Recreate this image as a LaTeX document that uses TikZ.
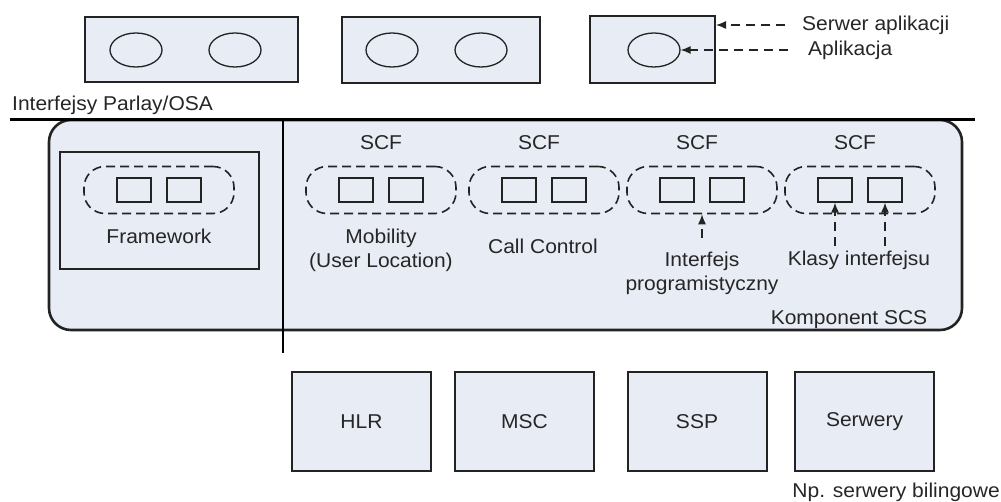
\documentclass[tikz,border=0pt]{standalone}
\usepackage{fontspec}
\setmainfont{Liberation Sans}[FakeStretch=1.05]
\usetikzlibrary{arrows.meta,positioning,shapes.geometric}
\definecolor{boxfill}{RGB}{232,236,244}
\definecolor{linegray}{RGB}{35,35,35}
\tikzset{
  srvbox/.style={draw=linegray, line width=2pt, fill=boxfill, inner sep=0pt},
  appell/.style={draw=linegray, ellipse, line width=1.3pt, minimum width=52pt, minimum height=34pt, inner sep=0pt},
  grpbox/.style={draw=linegray, dash pattern=on 9pt off 5pt, line width=1.6pt, rounded corners=21pt, minimum width=150pt, minimum height=47pt, inner sep=0pt},
  ifbox/.style={draw=linegray, line width=1.2pt, minimum width=34pt, minimum height=24pt, inner sep=0pt},
  dasharrow/.style={draw=linegray, dash pattern=on 9pt off 6pt, line width=1.3pt, -{Latex[length=10pt,width=8pt]}},
  lbl/.style={inner sep=2pt, text=black!85}
}
\begin{document}
\begin{tikzpicture}[x=1pt, y=-1pt, font=\fontsize{20}{24}\selectfont]
\useasboundingbox (0,0) rectangle (1001,502);
% serwery aplikacji
\node[srvbox, minimum width=213pt, minimum height=65pt] (srv1) at (191.5,49.5) {};
\node[srvbox, minimum width=198pt, minimum height=66pt] (srv2) at (441,50) {};
\node[srvbox, minimum width=125pt, minimum height=67pt] (srv3) at (652.5,49.5) {};
\foreach \name/\x in {app1/136, app2/235, app4/392, app5/481, app3/654}
  \node[appell] (\name) at (\x,50) {};
\node[lbl, anchor=west] (lblsrv) at (800,25) {Serwer aplikacji};
\node[lbl, anchor=west] (lblapp) at (806,50) {Aplikacja};
\draw[dasharrow] ([xshift=-15pt]lblsrv.west) -- (srv3.east |- lblsrv.west);
\draw[dasharrow] ([xshift=-18pt]lblapp.west) -- (app3.east);
% komponent SCS
\node[lbl, anchor=west] (lblosa) at (10,105) {Interfejsy Parlay/OSA};
\node[srvbox, line width=2.6pt, rounded corners=22pt, minimum width=913pt, minimum height=210pt] (scs) at (505.5,225) {};
\draw[line width=3pt] (10,120) -- (975,120);
\draw[line width=2.6pt] (283,120) -- (283,353);
\node[lbl] at (849,320) {Komponent SCS};
\node[srvbox, minimum width=199pt, minimum height=117pt] (fwbox) at (159.5,210.5) {};
\foreach \name/\x in {fw/159, mob/381, cc/544, pi/702, ki/860} {
  \node[grpbox] (\name) at (\x,190) {};
  \node[ifbox] (\name-a) at (\x-25,190) {};
  \node[ifbox] (\name-b) at (\x+25,190) {};
}
\foreach \x in {381, 539, 697, 855}
  \node[lbl] at (\x,143) {SCF};
\node[lbl] at (159,236) {Framework};
\node[lbl, align=center] at (381,250) {Mobility\\(User Location)};
\node[lbl] at (543,246) {Call Control};
\node[lbl, align=center] at (702,273.5) {Interfejs\\programistyczny};
\node[lbl] at (859,260) {Klasy interfejsu};
\draw[dasharrow] ([yshift=-24pt]pi.south) -- (pi.south);
\draw[dasharrow] ([yshift=-43pt]ki-a.south) -- (ki-a.south);
\draw[dasharrow] ([yshift=-43pt]ki-b.south) -- (ki-b.south);
% zasoby sieci
\foreach \name/\x/\txt in {hlr/361.5/HLR, msc/524.5/MSC, ssp/697/SSP, srvb/864.5/Serwery}
  \node[srvbox, minimum width=139pt, minimum height=99pt, text=black!85] (\name) at (\x,421.5) {\txt};
\node[lbl, anchor=east, inner sep=1pt] at (1001,492) {Np. serwery bilingowe};
\end{tikzpicture}
\end{document}
